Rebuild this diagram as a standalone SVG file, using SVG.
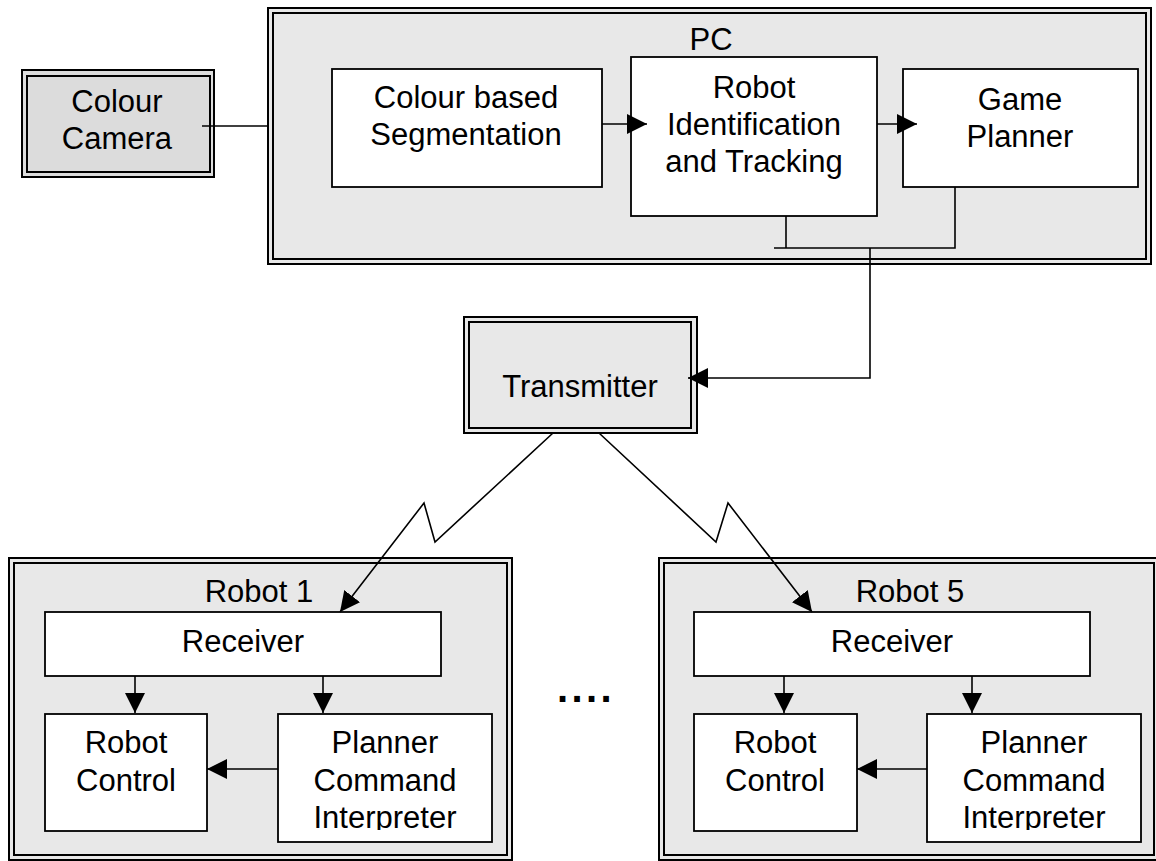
<svg xmlns="http://www.w3.org/2000/svg" width="1156" height="861" viewBox="0 0 1156 861">
  <style>
    text { font-family: "Liberation Sans", Arial, sans-serif; font-size: 31px; fill: #000; text-anchor: middle; }
    .frame { fill: #e8e8e8; stroke: #000; stroke-width: 2; }
    .frame-in { fill: #e8e8e8; stroke: #000; stroke-width: 2; }
    .cam { fill: #dcdcdc; }
    .box { fill: #fff; stroke: #000; stroke-width: 1.8; }
    .wire { fill: none; stroke: #000; stroke-width: 1.6; }
    .dots { font-weight: bold; font-size: 40px; letter-spacing: 3.4px; text-anchor: start; }
  </style>
  <defs>
    <marker id="arrow" viewBox="0 0 20 20" refX="20" refY="10" markerWidth="20" markerHeight="20" markerUnits="userSpaceOnUse" orient="auto">
      <path d="M0,0 L20,10 L0,20 z" fill="#000"/>
    </marker>
    <clipPath id="clipPci1"><rect x="278" y="714" width="214" height="116"/></clipPath>
    <clipPath id="clipPci5"><rect x="927" y="714" width="214" height="116"/></clipPath>
  </defs>

  <!-- Camera -->
  <g id="camera">
    <rect class="frame cam" x="22" y="70" width="192" height="107"/>
    <rect class="frame-in cam" x="27" y="76" width="183" height="96"/>
    <text x="117" y="112">Colour</text>
    <text x="117" y="149">Camera</text>
  </g>

  <!-- PC container -->
  <g id="pc">
    <rect class="frame" x="268" y="8" width="883" height="256"/>
    <rect class="frame-in" x="273" y="13" width="873" height="246"/>
    <text x="711" y="50">PC</text>
  </g>
  <g id="segmentation">
    <rect class="box" x="332" y="69" width="270" height="118"/>
    <text x="466" y="108">Colour based</text>
    <text x="466" y="145">Segmentation</text>
  </g>
  <g id="tracking">
    <rect class="box" x="631" y="57" width="246" height="159"/>
    <text x="754" y="98">Robot</text>
    <text x="754" y="135">Identification</text>
    <text x="754" y="172">and Tracking</text>
  </g>
  <g id="game-planner">
    <rect class="box" x="903" y="69" width="235" height="118"/>
    <text x="1020" y="110">Game</text>
    <text x="1020" y="147">Planner</text>
  </g>

  <!-- Transmitter -->
  <g id="transmitter">
    <rect class="frame" x="464" y="317" width="233" height="116"/>
    <rect class="frame-in" x="469" y="322" width="222" height="106"/>
    <text x="580" y="397">Transmitter</text>
  </g>

  <!-- Robot 1 -->
  <g id="robot1">
    <rect class="frame" x="9" y="558" width="503" height="302"/>
    <rect class="frame-in" x="14" y="563" width="493" height="292"/>
    <text x="259" y="602">Robot 1</text>
  </g>
  <g id="robot1-receiver">
    <rect class="box" x="45" y="612" width="396" height="64"/>
    <text x="243" y="652">Receiver</text>
  </g>
  <g id="robot1-control">
    <rect class="box" x="45" y="714" width="162" height="117"/>
    <text x="126" y="753">Robot</text>
    <text x="126" y="791">Control</text>
  </g>
  <g id="robot1-interpreter">
    <rect class="box" x="278" y="714" width="214" height="128"/>
    <g clip-path="url(#clipPci1)">
      <text x="385" y="753">Planner</text>
      <text x="385" y="791">Command</text>
      <text x="385" y="828">Interpreter</text>
    </g>
  </g>

  <!-- Robot 5 -->
  <g id="robot5">
    <rect class="frame" x="659" y="558" width="503" height="302"/>
    <rect class="frame-in" x="664" y="563" width="490" height="292"/>
    <text x="910" y="602">Robot 5</text>
  </g>
  <g id="robot5-receiver">
    <rect class="box" x="694" y="612" width="396" height="64"/>
    <text x="892" y="652">Receiver</text>
  </g>
  <g id="robot5-control">
    <rect class="box" x="694" y="714" width="163" height="117"/>
    <text x="775" y="753">Robot</text>
    <text x="775" y="791">Control</text>
  </g>
  <g id="robot5-interpreter">
    <rect class="box" x="927" y="714" width="214" height="128"/>
    <g clip-path="url(#clipPci5)">
      <text x="1034" y="753">Planner</text>
      <text x="1034" y="791">Command</text>
      <text x="1034" y="828">Interpreter</text>
    </g>
  </g>

  <!-- more robots in between -->
  <text class="dots" x="557" y="702">....</text>

  <!-- Connectors -->
  <g id="connectors" class="wire">
    <path d="M202,126 H267"/>
    <path d="M602,124 H647" marker-end="url(#arrow)"/>
    <path d="M877,124 H917" marker-end="url(#arrow)"/>
    <path d="M786,216 V248 M774,248 H955 V187"/>
    <path d="M870,248 V378 H688" marker-end="url(#arrow)"/>
    <path d="M553,433 L435,542 L424,503 L340,612" marker-end="url(#arrow)"/>
    <path d="M599,433 L716,542 L728,503 L812,612" marker-end="url(#arrow)"/>
    <path d="M135,676 V713" marker-end="url(#arrow)"/>
    <path d="M323,676 V713" marker-end="url(#arrow)"/>
    <path d="M278,769 H207" marker-end="url(#arrow)"/>
    <path d="M784,676 V713" marker-end="url(#arrow)"/>
    <path d="M972,676 V713" marker-end="url(#arrow)"/>
    <path d="M927,769 H857" marker-end="url(#arrow)"/>
  </g>
</svg>
